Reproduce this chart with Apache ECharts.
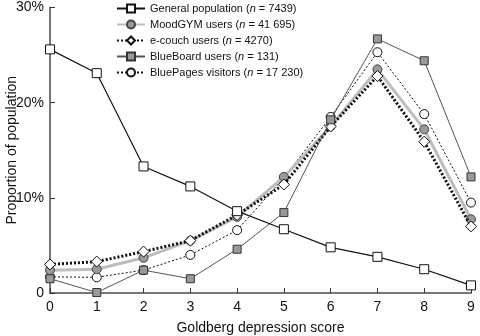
<!DOCTYPE html>
<html>
<head>
<meta charset="utf-8">
<script src="https://cdn.jsdelivr.net/npm/echarts@6/dist/echarts.min.js"></script>
<style>
  html, body { margin: 0; padding: 0; background: #fff; }
  #chart { width: 480px; height: 336px; }
</style>
</head>
<body>
<div id="chart"></div>
<script>
// Goldberg depression score (0–9)
const scores = ['0', '1', '2', '3', '4', '5', '6', '7', '8', '9'];

// Proportion of each group at each score, in percent
const generalPopulation = [25.6, 23.1, 13.3, 11.2, 8.6, 6.7, 4.8, 3.8, 2.5, 0.8];
const moodGym          = [2.4, 2.5, 3.7, 5.5, 8.0, 12.2, 17.5, 23.5, 17.2, 7.75];
const eCouch           = [3.0, 3.3, 4.35, 5.5, 8.2, 11.4, 17.5, 22.8, 15.9, 7.0];
const blueBoard        = [1.5, 0.05, 2.4, 1.5, 4.6, 8.45, 18.2, 26.7, 24.4, 12.2];
const bluePages        = [1.7, 1.65, 2.4, 4.0, 6.6, 12.1, 18.5, 25.3, 18.8, 9.5];

// Legend labels with sample sizes
const seriesNames = [
  'General population', 'MoodGYM users', 'e-couch users', 'BlueBoard users', 'BluePages visitors'
];
const sampleSizes = ['7439', '41 695', '4270', '131', '17 230'];

const yTicks = [0, 10, 20, 30];

const chart = echarts.init(document.getElementById('chart'));

const font = 'Liberation Sans, Arial, Helvetica, sans-serif';

chart.setOption({
  animation: false,
  backgroundColor: '#ffffff',
  grid: { left: 50, right: 9, top: 7.5, bottom: 43, containLabel: false, outerBoundsMode: 'none' },
  legend: {
    orient: 'vertical',
    left: 111,
    top: -3,
    itemWidth: 28,
    itemHeight: 10,
    itemGap: 3,
    data: seriesNames,
    formatter: function (name) {
      const i = seriesNames.indexOf(name);
      return name + ' ({it|n} = ' + sampleSizes[i] + ')';
    },
    textStyle: {
      fontFamily: font,
      fontSize: 11,
      lineHeight: 13,
      color: '#111',
      rich: {
        it: { fontStyle: 'italic', fontFamily: font, fontSize: 11, lineHeight: 13, color: '#111' }
      }
    }
  },
  xAxis: {
    type: 'category',
    data: scores,
    boundaryGap: false,
    name: 'Goldberg depression score',
    nameLocation: 'middle',
    nameGap: 28,
    nameMoveOverlap: false,
    nameTextStyle: { fontFamily: font, fontSize: 14, color: '#111' },
    axisLine: { lineStyle: { color: '#777', width: 2 } },
    axisTick: { inside: true, length: 5, lineStyle: { color: '#333', width: 1 } },
    axisLabel: { fontFamily: font, fontSize: 14, color: '#111', margin: 7 },
    splitLine: { show: false }
  },
  yAxis: {
    type: 'value',
    min: yTicks[0],
    max: yTicks[yTicks.length - 1],
    interval: 10,
    name: 'Proportion of population',
    nameLocation: 'middle',
    nameGap: 31,
    nameMoveOverlap: false,
    nameTextStyle: { fontFamily: font, fontSize: 14, color: '#111' },
    axisLine: { show: true, lineStyle: { color: '#777', width: 2 } },
    axisTick: { show: true, inside: true, length: 5, lineStyle: { color: '#333', width: 1 } },
    axisLabel: {
      fontFamily: font, fontSize: 14, color: '#111', margin: 6,
      formatter: function (v) { return v === 0 ? '0' : v + '%'; }
    },
    splitLine: { show: false }
  },
  series: [
    {
      name: 'General population',
      type: 'line',
      data: generalPopulation,
      z: 10,
      symbol: 'rect',
      symbolSize: 9,
      lineStyle: { color: '#111', width: 1.2, type: 'solid' },
      itemStyle: { color: '#fff', borderColor: '#111', borderWidth: 1 }
    },
    {
      name: 'MoodGYM users',
      type: 'line',
      data: moodGym,
      z: 4,
      symbol: 'circle',
      symbolSize: 9,
      lineStyle: { color: '#bdbdbd', width: 3, type: 'solid' },
      itemStyle: { color: '#9a9a9a', borderColor: '#444', borderWidth: 1 }
    },
    {
      name: 'e-couch users',
      type: 'line',
      data: eCouch,
      z: 5,
      symbol: 'diamond',
      symbolSize: 11,
      lineStyle: { color: '#111', width: 3, type: [2, 2] },
      itemStyle: { color: '#fff', borderColor: '#111', borderWidth: 1 }
    },
    {
      name: 'BlueBoard users',
      type: 'line',
      data: blueBoard,
      z: 6,
      symbol: 'rect',
      symbolSize: 8,
      lineStyle: { color: '#555', width: 1, type: 'solid' },
      itemStyle: { color: '#999', borderColor: '#333', borderWidth: 1 }
    },
    {
      name: 'BluePages visitors',
      type: 'line',
      data: bluePages,
      z: 3,
      symbol: 'circle',
      symbolSize: 9,
      lineStyle: { color: '#111', width: 1, type: [2, 2] },
      itemStyle: { color: '#fff', borderColor: '#111', borderWidth: 1 }
    }
  ]
});
</script>
</body>
</html>
